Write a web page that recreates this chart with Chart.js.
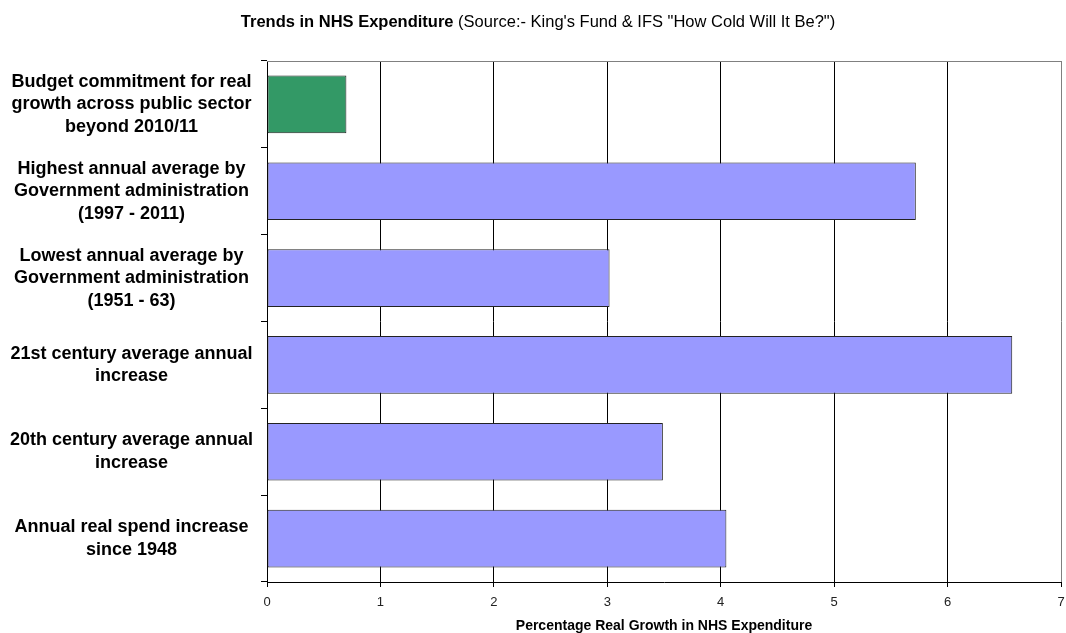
<!DOCTYPE html>
<html>
<head>
<meta charset="utf-8">
<script src="https://cdn.jsdelivr.net/npm/chart.js@4"></script>
<style>
body { margin: 0; background: #fff; }
</style>
</head>
<body>
<canvas id="barChart" width="1066" height="633"></canvas>
<script>
var categories = [
    ['Budget commitment for real', 'growth across public sector', 'beyond 2010/11'],
    ['Highest annual average by', 'Government administration', '(1997 - 2011)'],
    ['Lowest annual average by', 'Government administration', '(1951 - 63)'],
    ['21st century average annual', 'increase'],
    ['20th century average annual', 'increase'],
    ['Annual real spend increase', 'since 1948']
];
var growth = [0.7, 5.72, 3.02, 6.57, 3.49, 4.05];
var barColors = ['#339966', '#9999ff', '#9999ff', '#9999ff', '#9999ff', '#9999ff'];
var xTicks = [0, 1, 2, 3, 4, 5, 6, 7];

var titleBold = 'Trends in NHS Expenditure';
var titleRest = ' (Source:- King\'s Fund & IFS "How Cold Will It Be?")';

// title with a bold part and a normal part, plus the grey top frame line
var framePlugin = {
    id: 'frame',
    beforeDatasetsDraw: function(chart) {
        var c = chart.ctx, a = chart.chartArea;
        c.save();
        c.strokeStyle = '#808080';
        c.lineWidth = 1;
        c.beginPath();
        c.moveTo(a.left, a.top + 0.5);
        c.lineTo(a.right, a.top + 0.5);
        c.stroke();
        c.restore();
    },
    afterDraw: function(chart) {
        var c = chart.ctx;
        c.save();
        c.fillStyle = '#000';
        c.textBaseline = 'alphabetic';
        c.font = 'bold 16.5px "Liberation Sans", Arial, sans-serif';
        var w1 = c.measureText(titleBold).width;
        c.font = '16.5px "Liberation Sans", Arial, sans-serif';
        var w2 = c.measureText(titleRest).width;
        var x = 538 - (w1 + w2) / 2;
        c.font = 'bold 16.5px "Liberation Sans", Arial, sans-serif';
        c.fillText(titleBold, x, 27);
        c.font = '16.5px "Liberation Sans", Arial, sans-serif';
        c.fillText(titleRest, x + w1, 27);
        c.restore();
    }
};

var ctx = document.getElementById('barChart').getContext('2d');
var myChart = new Chart(ctx, {
    type: 'bar',
    data: {
        labels: categories,
        datasets: [{
            label: 'Percentage Real Growth',
            data: growth,
            backgroundColor: barColors,
            borderColor: '#222',
            borderWidth: 1,
            borderSkipped: false,
            barPercentage: 0.665,
            categoryPercentage: 1
        }]
    },
    options: {
        indexAxis: 'y',
        responsive: false,
        animation: false,
        layout: {
            padding: { top: 61, right: 5, left: 0, bottom: 0 }
        },
        plugins: {
            legend: { display: false },
            tooltip: { enabled: false }
        },
        scales: {
            x: {
                min: 0,
                max: 7,
                afterFit: function(scale) {
                    scale.height = 51;
                    scale.paddingRight = 0;
                },
                afterBuildTicks: function(scale) {
                    scale.ticks = xTicks.map(function(v) { return { value: v }; });
                },
                grid: {
                    color: function(c) { return c.index === 7 ? '#808080' : '#000'; },
                    lineWidth: 1,
                    tickLength: 5,
                    tickColor: '#000'
                },
                border: { color: '#000', width: 1 },
                ticks: {
                    color: '#222',
                    padding: 8,
                    maxRotation: 0,
                    font: { family: '"Liberation Sans", Arial, sans-serif', size: 13 }
                },
                title: {
                    display: true,
                    text: 'Percentage Real Growth in NHS Expenditure',
                    color: '#000',
                    padding: { top: 0, bottom: 0 },
                    font: { family: '"Liberation Sans", Arial, sans-serif', size: 14, weight: 'bold', lineHeight: 1 }
                }
            },
            y: {
                afterFit: function(scale) { scale.width = 267; },
                grid: {
                    offset: true,
                    drawOnChartArea: false,
                    tickLength: 6,
                    color: '#000'
                },
                border: { color: '#000', width: 1 },
                ticks: {
                    crossAlign: 'center',
                    padding: 8,
                    color: '#000',
                    font: { family: '"Liberation Sans", Arial, sans-serif', size: 18, weight: 'bold', lineHeight: 1.25 }
                }
            }
        }
    },
    plugins: [framePlugin]
});
</script>
</body>
</html>
